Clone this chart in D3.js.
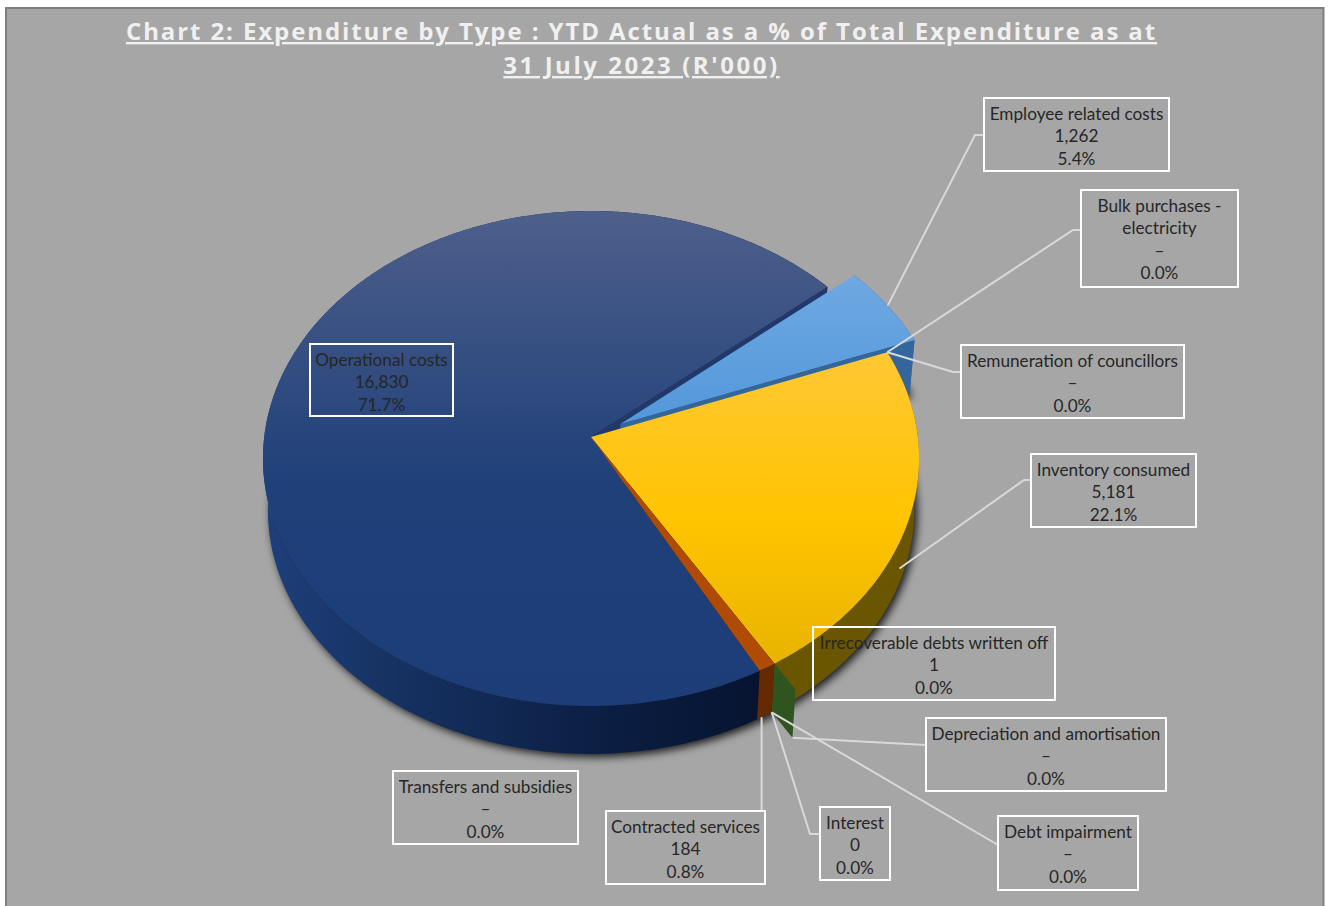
<!DOCTYPE html>
<html>
<head>
<meta charset="utf-8">
<script src="https://cdnjs.cloudflare.com/ajax/libs/d3/7.8.5/d3.min.js"></script>
<style>
  html, body { margin: 0; padding: 0; background: #ffffff; }
  svg { display: block; }
  text { font-family: Lato, "Noto Sans", sans-serif; }
</style>
</head>
<body>
<svg id="chart" width="1328" height="906"></svg>
<script>
// Expenditure categories, clockwise from the top-right of the pie
const categories = [
  "Employee related costs", "Bulk purchases - electricity", "Remuneration of councillors",
  "Inventory consumed", "Irrecoverable debts written off", "Depreciation and amortisation",
  "Debt impairment", "Interest", "Contracted services", "Transfers and subsidies", "Operational costs"
];
// YTD actual, R'000
const values = [1262, 0, 0, 5181, 1, 0, 0, 0.3, 184, 0, 16830];
// Category names wrapped over the lines they occupy inside their boxes
const nameLines = [
  ["Employee related costs"], ["Bulk purchases -", "electricity"], ["Remuneration of councillors"],
  ["Inventory consumed"], ["Irrecoverable debts written off"], ["Depreciation and amortisation"],
  ["Debt impairment"], ["Interest"], ["Contracted services"], ["Transfers and subsidies"], ["Operational costs"]
];
const titleLines = [
  "Chart 2: Expenditure by Type : YTD Actual as a % of Total Expenditure as at",
  "31 July 2023 (R'000)"
];

// Label box rectangles [left, top, right, bottom], one per category
const boxes = [
  [984, 98, 1169, 171], [1081, 190, 1238, 287], [961, 345, 1184, 418],
  [1031, 454, 1196, 527], [813, 627, 1055, 700], [926, 718, 1166, 791],
  [998, 816, 1138, 890], [820, 807, 890, 880], [606, 811, 765, 884],
  [393, 771, 578, 844], [310, 344, 453, 416]
];

// Perspective model of the tilted disc
const view = { cx: 591, cy: 437, a: 326.8, b: 245.6, k: 0.0869, floorY: 489, floorScale: 0.985 };
const explode = { 0: 0.105, 4: 0.105 };
const firstAngle = 49.8 * Math.PI / 180;

const total = d3.sum(values);
const slices = d3.pie().sort(null).value(d => d)
  .startAngle(firstAngle).endAngle(firstAngle + 2 * Math.PI)(values);

// Projects a point of a slice, pushing exploded slices out along their mid-angle
function slicePoint(i, theta, r, floor) {
  const s = slices[i], off = explode[i] || 0, m = (s.startAngle + s.endAngle) / 2;
  const u = r * Math.sin(theta) + off * Math.sin(m);
  const v = -r * Math.cos(theta) - off * Math.cos(m);
  const w = 1 - view.k * v;
  const dx = view.a * u / w, dy = view.b * v / w;
  return floor
    ? [view.cx + view.floorScale * dx, view.floorY + view.floorScale * dy]
    : [view.cx + dx, view.cy + dy];
}
const line = d3.line();
function arcPts(i, floor) {
  const s = slices[i], n = Math.max(2, Math.ceil((s.endAngle - s.startAngle) / 0.01));
  return d3.range(n + 1).map(j => slicePoint(i, s.startAngle + (s.endAngle - s.startAngle) * j / n, 1, floor));
}
const poly = pts => line(pts) + "Z";
const topFace = i => poly([slicePoint(i, slices[i].startAngle, 0, false), ...arcPts(i, false)]);
const floorFace = i => poly([slicePoint(i, slices[i].startAngle, 0, true), ...arcPts(i, true)]);
const rimWall = i => poly([...arcPts(i, false), ...arcPts(i, true).reverse()]);
function radialWall(i, theta, r0, r1) {
  return poly([
    slicePoint(i, theta, r0, false), slicePoint(i, theta, r1, false),
    slicePoint(i, theta, r1, true), slicePoint(i, theta, r0, true)
  ]);
}

const svg = d3.select("#chart");
const defs = svg.append("defs");

function gradient(id, stops, vertical, from, to) {
  const g = defs.append("linearGradient").attr("id", id).attr("gradientUnits", "userSpaceOnUse");
  if (vertical) g.attr("x1", 0).attr("x2", 0).attr("y1", from).attr("y2", to);
  else g.attr("y1", 0).attr("y2", 0).attr("x1", from).attr("x2", to);
  stops.forEach(([o, c]) => g.append("stop").attr("offset", o).attr("stop-color", c));
}
gradient("navyTop", [[0, "#4e5f8b"], [0.55, "#1f4079"], [1, "#1c3d78"]], true, 211, 706);
gradient("blueTop", [[0, "#6fa8e2"], [1, "#5197da"]], true, 276, 430);
gradient("goldTop", [[0, "#ffc835"], [0.55, "#ffc400"], [1, "#e8b400"]], true, 350, 665);
gradient("navyWall", [[0, "#1e3f7a"], [0.3, "#15305f"], [0.7, "#0b1e42"], [1, "#061431"]], false, 263, 757);

const shadow = defs.append("filter").attr("id", "floorShadow")
  .attr("x", "-5%").attr("y", "-5%").attr("width", "110%").attr("height", "115%");
shadow.append("feGaussianBlur").attr("stdDeviation", 4);

// Panel, its lower edge running off the page
svg.append("rect").attr("x", 6).attr("y", 8).attr("width", 1317.5).attr("height", 910)
  .attr("fill", "#a6a6a6").attr("stroke", "#7f7f7f").attr("stroke-width", 2);

// Title
const titleSpacing = ["1.9px", "2.55px"];
svg.append("g").selectAll("text").data(titleLines).join("text")
  .attr("x", 641.5).attr("y", (d, i) => 40 + i * 34)
  .attr("text-anchor", "middle").attr("fill", "#f0f0f0")
  .style("font-family", "'Open Sans', sans-serif").style("font-size", "24px").style("font-weight", 700)
  .style("letter-spacing", (d, i) => titleSpacing[i]).style("text-decoration", "underline")
  .text(d => d);

const IDX = { employee: 0, inventory: 3, irrecoverable: 4, contracted: 8, operational: 10 };
const op = IDX.operational, em = IDX.employee, inv = IDX.inventory, irr = IDX.irrecoverable, con = IDX.contracted;

// Soft shadow cast by the underside of the pie
svg.append("g").attr("filter", "url(#floorShadow)").attr("transform", "translate(3,3)")
  .selectAll("path").data([op, em, inv, con]).join("path")
  .attr("d", i => floorFace(i)).attr("fill", "#000").attr("fill-opacity", 0.85);

// Pie, painted back to front
const pie = svg.append("g");
const paint = (d, fill) => pie.append("path").attr("d", d).attr("fill", fill);

paint(rimWall(op), "url(#navyWall)");
paint(radialWall(op, slices[op].endAngle, 0, 1), "#22386b");
paint(topFace(op), "url(#navyTop)");
paint(radialWall(em, slices[em].endAngle, 0, 1), "#33669a");
paint(rimWall(em), "#33669a");
paint(topFace(em), "url(#blueTop)");
paint(rimWall(inv), "#6a5600");
// End face of the hair-thin exploded slice
paint(poly([
  slicePoint(inv, slices[irr].startAngle, 1, false),
  slicePoint(irr, slices[irr].startAngle, 1, false),
  slicePoint(irr, slices[irr].startAngle, 1, true),
  slicePoint(inv, slices[irr].startAngle, 1, true)
]), "#2f5420");
paint(topFace(inv), "url(#goldTop)");
paint(rimWall(con), "#662a02");
paint(topFace(con), "#b04b03");

// Leader lines: slice anchors come from the same projection as the pie
const mid = i => (slices[i].startAngle + slices[i].endAngle) / 2;
const contractedFoot = slicePoint(con, slices[con].startAngle + 0.7 * (slices[con].endAngle - slices[con].startAngle), 1, true);
const leaders = [
  [slicePoint(em, mid(em), 1, false), [975, 135], [984, 135]],
  [slicePoint(inv, slices[inv].startAngle, 1, false), [1073, 230], [1081, 230]],
  [slicePoint(inv, slices[inv].startAngle, 1, false), [953, 372], [961, 372]],
  [slicePoint(inv, mid(inv), 0.985, true), [1024, 480], [1031, 480]],
  [slicePoint(irr, slices[irr].startAngle, 1, true), [926, 745]],
  [slicePoint(con, slices[con].startAngle, 1, true), [998, 845]],
  [slicePoint(con, slices[con].startAngle, 1, true), [810, 834], [820, 834]],
  [contractedFoot, [contractedFoot[0], 811]]
];
svg.append("g").selectAll("path").data(leaders).join("path")
  .attr("d", d => line(d)).attr("fill", "none")
  .attr("stroke", "#d9d9d9").attr("stroke-width", 2);

// Data labels
const fmtValue = v => v === 0 ? "–" : d3.format(",.0f")(v);
const fmtShare = d3.format(".1%");
const labels = svg.append("g").selectAll("g").data(categories).join("g");
labels.append("rect")
  .attr("x", (d, i) => boxes[i][0]).attr("y", (d, i) => boxes[i][1])
  .attr("width", (d, i) => boxes[i][2] - boxes[i][0]).attr("height", (d, i) => boxes[i][3] - boxes[i][1])
  .attr("fill", "none").attr("stroke", "#ffffff").attr("stroke-width", 2);
labels.each(function (d, i) {
  const rows = [...nameLines[i], fmtValue(values[i]), fmtShare(values[i] / total)];
  d3.select(this).selectAll("text").data(rows).join("text")
    .attr("x", (boxes[i][0] + boxes[i][2]) / 2)
    .attr("y", (r, j) => boxes[i][1] + 21.8 + j * 22.4)
    .attr("text-anchor", "middle").attr("fill", "#262626")
    .style("font-size", "17.2px")
    .text(r => r);
});
</script>
</body>
</html>
